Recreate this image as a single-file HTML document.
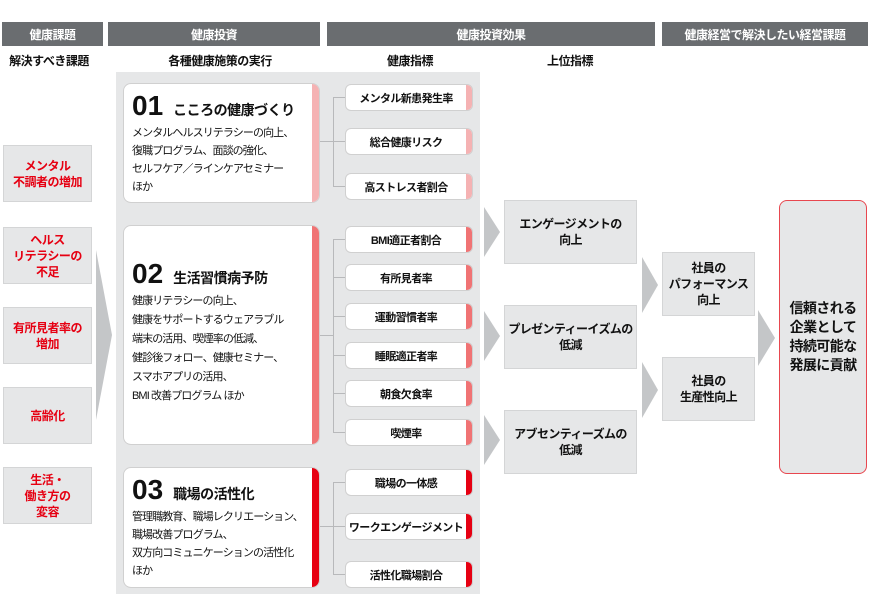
<!DOCTYPE html>
<html><head><meta charset="utf-8"><style>
*{margin:0;padding:0;box-sizing:border-box}
body{width:871px;height:597px;background:#fff;position:relative;overflow:hidden;font-family:"Liberation Sans","Noto Sans CJK JP",sans-serif;color:#111}
.a{position:absolute}
.hd{position:absolute;top:22px;height:24px;background:#6a6d70;color:#fff;font-size:12px;font-weight:bold;display:flex;align-items:center;justify-content:center;letter-spacing:-0.5px}
.sub{position:absolute;top:52px;font-size:12px;font-weight:bold;text-align:center;letter-spacing:-0.5px}
.lb{position:absolute;left:3px;width:89px;height:57px;background:#e6e7e8;border:1px solid #d4d5d6;color:#e60012;font-weight:bold;font-size:12px;line-height:16px;display:flex;align-items:center;justify-content:center;text-align:center;letter-spacing:-0.5px}
.card{position:absolute;left:123px;width:197px;background:#fff;border-radius:8px;border:1px solid #d0d0d0;padding:6px 8px;overflow:hidden;white-space:nowrap}
.card .st{position:absolute;right:0;top:0;bottom:0;width:7px}
.card h2{font-size:14px;font-weight:bold;display:flex;align-items:baseline;letter-spacing:-0.5px}
.card h2 b{font-size:28px;margin-right:10px;font-weight:bold;letter-spacing:0}
.card p{font-size:11px;line-height:19px;margin-top:2px;letter-spacing:-0.9px}
.ind{position:absolute;left:345px;width:128px;height:27px;background:#fff;border-radius:6px;border:1px solid #d0d0d0;font-size:11px;font-weight:bold;display:flex;align-items:center;justify-content:center;padding-right:6px;overflow:hidden;white-space:nowrap;letter-spacing:-0.6px}
.ind i{position:absolute;right:0;top:0;bottom:0;width:6px}
.bx{position:absolute;background:#e6e7e8;border:1px solid #d4d5d6;font-size:12px;font-weight:bold;line-height:16px;display:flex;align-items:center;justify-content:center;text-align:center;letter-spacing:-0.6px;white-space:nowrap}
.ln{position:absolute;background:#b8b9bb}
</style></head><body>
<div class="hd" style="left:2px;width:101px">健康課題</div>
<div class="hd" style="left:108px;width:212px">健康投資</div>
<div class="hd" style="left:327px;width:328px">健康投資効果</div>
<div class="hd" style="left:662px;width:206px">健康経営で解決したい経営課題</div>
<div class="sub" style="left:0;width:98px">解決すべき課題</div>
<div class="sub" style="left:130px;width:180px">各種健康施策の実行</div>
<div class="sub" style="left:360px;width:100px">健康指標</div>
<div class="sub" style="left:520px;width:100px">上位指標</div>

<div class="lb" style="top:145px">メンタル<br>不調者の増加</div>
<div class="lb" style="top:227px">ヘルス<br>リテラシーの<br>不足</div>
<div class="lb" style="top:307px">有所見者率の<br>増加</div>
<div class="lb" style="top:387px">高齢化</div>
<div class="lb" style="top:467px">生活・<br>働き方の<br>変容</div>

<div class="a" style="left:116px;top:72px;width:364px;height:522px;background:#e6e7e8"></div>

<svg class="a" style="left:0;top:0" width="871" height="597">
<g fill="#c4c6c8">
<polygon points="96,250 112,335 96,420"/>
<polygon points="484,207 500,232 484,257"/>
<polygon points="484,311 500,336 484,361"/>
<polygon points="484,415 500,440 484,465"/>
<polygon points="642,257 658,285 642,313"/>
<polygon points="642,362 658,390 642,418"/>
<polygon points="758,310 775,338 758,366"/>
</g></svg>

<div class="ln" style="left:320px;top:141px;width:13px;height:1px"></div>
<div class="ln" style="left:333px;top:97px;width:1px;height:89px"></div>
<div class="ln" style="left:333px;top:97px;width:12px;height:1px"></div>
<div class="ln" style="left:333px;top:141px;width:12px;height:1px"></div>
<div class="ln" style="left:333px;top:186px;width:12px;height:1px"></div>

<div class="ln" style="left:320px;top:335px;width:13px;height:1px"></div>
<div class="ln" style="left:333px;top:239px;width:1px;height:193px"></div>
<div class="ln" style="left:333px;top:239px;width:12px;height:1px"></div>
<div class="ln" style="left:333px;top:277px;width:12px;height:1px"></div>
<div class="ln" style="left:333px;top:316px;width:12px;height:1px"></div>
<div class="ln" style="left:333px;top:355px;width:12px;height:1px"></div>
<div class="ln" style="left:333px;top:393px;width:12px;height:1px"></div>
<div class="ln" style="left:333px;top:432px;width:12px;height:1px"></div>

<div class="ln" style="left:320px;top:526px;width:13px;height:1px"></div>
<div class="ln" style="left:333px;top:482px;width:1px;height:92px"></div>
<div class="ln" style="left:333px;top:482px;width:12px;height:1px"></div>
<div class="ln" style="left:333px;top:526px;width:12px;height:1px"></div>
<div class="ln" style="left:333px;top:574px;width:12px;height:1px"></div>

<div class="card" style="top:83px;height:120px"><div class="st" style="background:#f5b2b3"></div>
<h2><b>01</b>こころの健康づくり</h2>
<p style="line-height:18px">メンタルヘルスリテラシーの向上、<br>復職プログラム、面談の強化、<br>セルフケア／ラインケアセミナー<br>ほか</p></div>
<div class="card" style="top:225px;height:220px;padding-top:32px"><div class="st" style="background:#f07374"></div>
<h2><b>02</b>生活習慣病予防</h2>
<p>健康リテラシーの向上、<br>健康をサポートするウェアラブル<br>端末の活用、喫煙率の低減、<br>健診後フォロー、健康セミナー、<br>スマホアプリの活用、<br>BMI 改善プログラム ほか</p></div>
<div class="card" style="top:467px;height:121px"><div class="st" style="background:#e60012"></div>
<h2><b>03</b>職場の活性化</h2>
<p style="line-height:18px">管理職教育、職場レクリエーション、<br>職場改善プログラム、<br>双方向コミュニケーションの活性化<br>ほか</p></div>

<div class="ind" style="top:84px"><i style="background:#f5b2b3"></i>メンタル新患発生率</div>
<div class="ind" style="top:128px"><i style="background:#f5b2b3"></i>総合健康リスク</div>
<div class="ind" style="top:173px"><i style="background:#f5b2b3"></i>高ストレス者割合</div>
<div class="ind" style="top:226px"><i style="background:#f07374"></i>BMI適正者割合</div>
<div class="ind" style="top:264px"><i style="background:#f07374"></i>有所見者率</div>
<div class="ind" style="top:303px"><i style="background:#f07374"></i>運動習慣者率</div>
<div class="ind" style="top:342px"><i style="background:#f07374"></i>睡眠適正者率</div>
<div class="ind" style="top:380px"><i style="background:#f07374"></i>朝食欠食率</div>
<div class="ind" style="top:419px"><i style="background:#f07374"></i>喫煙率</div>
<div class="ind" style="top:469px"><i style="background:#e60012"></i>職場の一体感</div>
<div class="ind" style="top:513px"><i style="background:#e60012"></i>ワークエンゲージメント</div>
<div class="ind" style="top:561px"><i style="background:#e60012"></i>活性化職場割合</div>

<div class="bx" style="left:504px;top:200px;width:133px;height:64px">エンゲージメントの<br>向上</div>
<div class="bx" style="left:504px;top:305px;width:133px;height:64px">プレゼンティーイズムの<br>低減</div>
<div class="bx" style="left:504px;top:410px;width:133px;height:64px">アブセンティーズムの<br>低減</div>
<div class="bx" style="left:662px;top:252px;width:93px;height:64px">社員の<br>パフォーマンス<br>向上</div>
<div class="bx" style="left:662px;top:357px;width:93px;height:64px">社員の<br>生産性向上</div>
<div class="bx" style="left:779px;top:200px;width:88px;height:274px;border:1px solid #e8474f;border-radius:8px;font-size:14px;line-height:19px">信頼される<br>企業として<br>持続可能な<br>発展に貢献</div>
</body></html>
